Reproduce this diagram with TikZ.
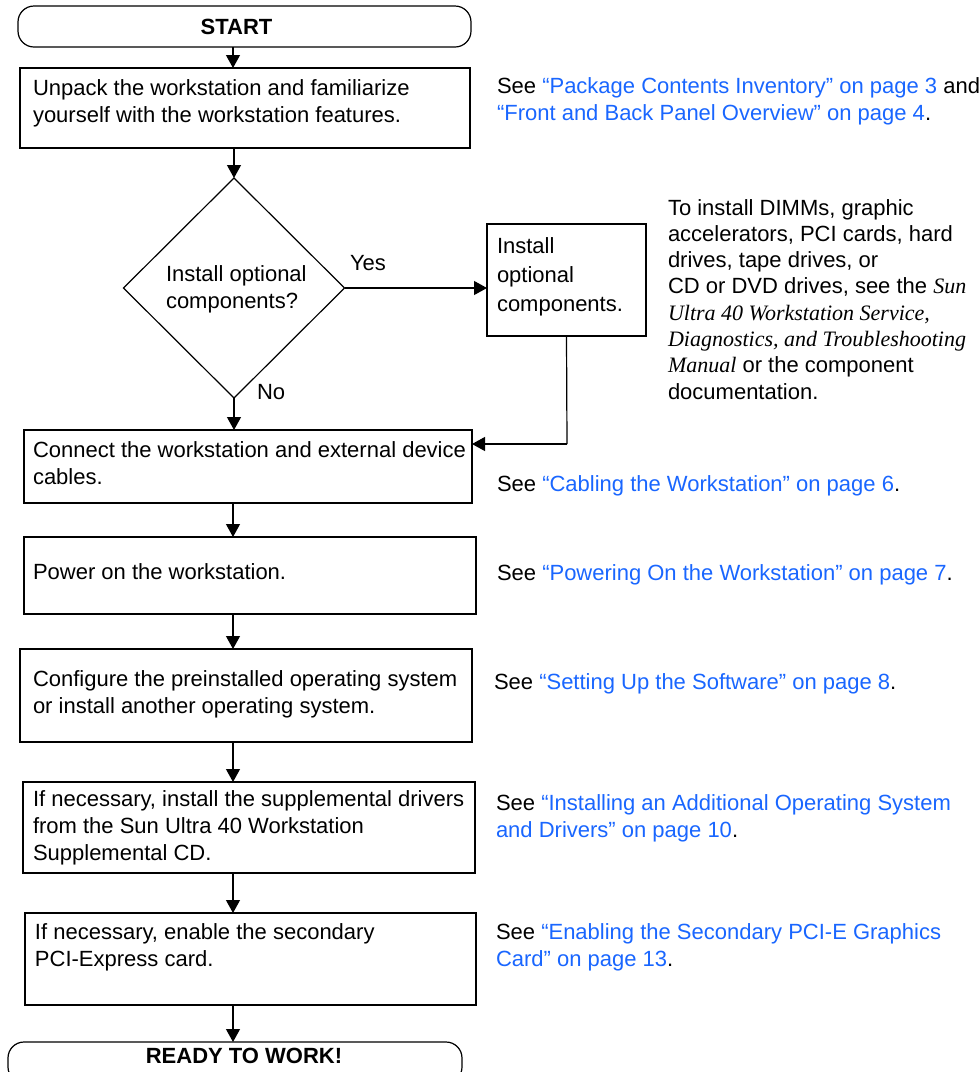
\documentclass[tikz,border=0pt]{standalone}
\usepackage{fontspec}
\setmainfont{Liberation Sans}
\newfontfamily\seriffam{Liberation Serif}
\usetikzlibrary{arrows.meta,shapes.geometric,calc}
\definecolor{linkblue}{RGB}{25,102,255}
\newcommand\lnk[1]{\textcolor{linkblue}{#1}}
\newcommand\bk[1]{{\seriffam\itshape #1}}
\begin{document}
\begin{tikzpicture}[x=0.75pt,y=-0.75pt,
  every node/.style={font=\fontsize{16.5}{20.25}\selectfont, inner sep=0pt, outer sep=0pt},
  boxshape/.style={draw, line width=0.9pt, rectangle},
  term/.style={draw, line width=0.9pt, rectangle, rounded corners=12pt},
  txt/.style={anchor=base west, align=left},
  arr/.style={-{Triangle[length=9.75pt,width=10.5pt]}, line width=0.9pt}]
\useasboundingbox (0,0) rectangle (980,1072);
% shapes
\node[term, minimum width=339.75pt, minimum height=30.75pt] (start) at (244.5,26.5) {};
\node[boxshape, minimum width=337.5pt, minimum height=60pt] (b1) at (245,108) {};
\node[draw, line width=0.9pt, diamond, minimum width=165.75pt, minimum height=165pt] (dia) at (234,288) {};
\node[boxshape, minimum width=119.25pt, minimum height=84pt] (inst) at (566.5,280) {};
\node[boxshape, minimum width=336pt, minimum height=54.75pt] (b2) at (248,466.5) {};
\node[boxshape, minimum width=339pt, minimum height=57.75pt] (b3) at (250,575.5) {};
\node[boxshape, minimum width=339pt, minimum height=69.75pt] (b4) at (246,695.5) {};
\node[boxshape, minimum width=339pt, minimum height=68.25pt] (b5) at (249,827.5) {};
\node[boxshape, minimum width=338.25pt, minimum height=69pt] (b6) at (250.5,959) {};
\node[term, minimum width=340.5pt, minimum height=30.75pt] (ready) at (235,1062.5) {};
% texts in shapes (anchor = baseline of last line)
\node[anchor=base] (tstart) at (236.5,34) {\bfseries START};
\node[anchor=base] (tready) at (244,1063) {\bfseries READY TO WORK!};
\node[txt] (t1) at (33,122) {Unpack the workstation and familiarize\\yourself with the workstation features.};
\node[txt] (tdia) at (166,308) {Install optional\\components?};
\node[txt, font=\fontsize{16.5}{21.75}\selectfont] (tinst) at (497,311) {Install\\optional\\components.};
\node[txt] (t2) at (33,484) {Connect the workstation and external device\\cables.};
\node[txt] (t3) at (33,579) {Power on the workstation.};
\node[txt] (t4) at (33,713) {Configure the preinstalled operating system\\or install another operating system.};
\node[txt] (t5) at (33,860) {If necessary, install the supplemental drivers\\from the Sun Ultra 40 Workstation\\Supplemental CD.};
\node[txt] (t6) at (35,966) {If necessary, enable the secondary\\PCI-Express card.};
\node[txt] (yes) at (350,270) {Yes};
\node[txt] (no) at (257,399) {No};
% notes
\node[txt] (n1) at (497,120) {See \lnk{“Package Contents Inventory” on page 3} and\\\lnk{“Front and Back Panel Overview” on page 4}.};
\node[txt, font=\fontsize{16.5}{19.7}\selectfont] (n2) at (668,399) {To install DIMMs, graphic\\accelerators, PCI cards, hard\\drives, tape drives, or\\CD or DVD drives, see the \bk{Sun}\\\bk{Ultra 40 Workstation Service,}\\\bk{Diagnostics, and Troubleshooting}\\\bk{Manual} or the component\\documentation.};
\node[txt] (n3) at (497,491) {See \lnk{“Cabling the Workstation” on page 6}.};
\node[txt] (n4) at (497,580) {See \lnk{“Powering On the Workstation” on page 7}.};
\node[txt] (n5) at (494,689) {See \lnk{“Setting Up the Software” on page 8}.};
\node[txt] (n6) at (496,837) {See \lnk{“Installing an Additional Operating System}\\\lnk{and Drivers” on page 10}.};
\node[txt] (n7) at (496,966) {See \lnk{“Enabling the Secondary PCI-E Graphics}\\\lnk{Card” on page 13}.};
% connectors
\coordinate (ax) at (233,0);
\coordinate (j) at (567,444);
\draw[arr] (start.south -| ax) -- (b1.north -| ax);
\draw[arr] (b1.south -| dia.north) -- (dia.north);
\draw[arr] (dia.east) -- (dia.east -| inst.west);
\draw[arr] (dia.south) -- (b2.north -| dia.south);
\draw[line width=0.9pt] (inst.south) -- (j);
\draw[arr] (j) -- (j -| b2.east);
\draw[arr] (b2.south -| ax) -- (b3.north -| ax);
\draw[arr] (b3.south -| ax) -- (b4.north -| ax);
\draw[arr] (b4.south -| ax) -- (b5.north -| ax);
\draw[arr] (b5.south -| ax) -- (b6.north -| ax);
\draw[arr] (b6.south -| ax) -- (ready.north -| ax);
\end{tikzpicture}
\end{document}
